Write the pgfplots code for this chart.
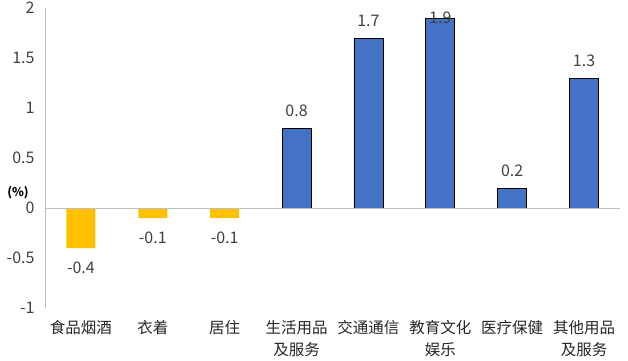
\documentclass[border=0pt]{standalone}
\usepackage{fontspec}
\setmainfont{Noto Sans CJK SC}
\usepackage{pgfplots}
\pgfplotsset{compat=1.18}
\pgfplotsset{/pgf/number format/assume math mode=true}
\definecolor{cyel}{HTML}{FFC000}
\definecolor{cblue}{HTML}{4472C4}
\definecolor{ctxt}{HTML}{404040}
\definecolor{caxis}{HTML}{BFBFBF}
\begin{document}
\begin{tikzpicture}
\useasboundingbox (-45pt,-52pt) rectangle (583pt,308pt);
\begin{axis}[
  at={(0,0)}, anchor=south west,
  scale only axis, width=575pt, height=300pt,
  xmin=-0.5, xmax=7.5, ymin=-1, ymax=2,
  axis lines=left,
  x axis line style={draw=none},
  y axis line style={-, draw=caxis, line width=0.8pt},
  xtick={0,1,2,3,4,5,6,7},
  xticklabels={食品烟酒,衣着,居住,{生活用品\\及服务},交通通信,{教育文化\\娱乐},医疗保健,{其他用品\\及服务}},
  xticklabel style={align=center, font=\fontsize{15.5}{22}\selectfont, text=black!85, yshift=-9pt},
  ytick={-1,-0.5,0,0.5,1,1.5,2},
  yticklabel style={font=\fontsize{16}{18}\selectfont, text=ctxt, xshift=-7pt},
  major tick length=0pt,
  tick style={draw=none},
  ybar, bar width=29pt, bar shift=0pt,
  clip=false,
  nodes near coords,
  every node near coord/.append style={font=\fontsize{16}{18}\selectfont, text=ctxt},
]
\addplot[fill=cyel, draw=none, nodes near coords align={below}, every node near coord/.append style={yshift=-10pt}] coordinates {(0,-0.4) (1,-0.1) (2,-0.1)};
\addplot[fill=cblue, draw=black, line width=0.8pt, nodes near coords align={above}, every node near coord/.append style={yshift=8pt}] coordinates {(3,0.8) (4,1.7) (6,0.2) (7,1.3)};
\addplot[fill=cblue, draw=black, line width=0.8pt, nodes near coords align={above}, every node near coord/.append style={yshift=-9pt}] coordinates {(5,1.9)};
\draw[caxis, line width=0.8pt] (axis cs:-0.5,0) -- (axis cs:7.5,0);
\node[font=\bfseries\fontsize{12}{14}\selectfont, text=black] at (axis cs:-0.5,0.15) [xshift=-27pt] {(\%)};
\end{axis}
\end{tikzpicture}
\end{document}
